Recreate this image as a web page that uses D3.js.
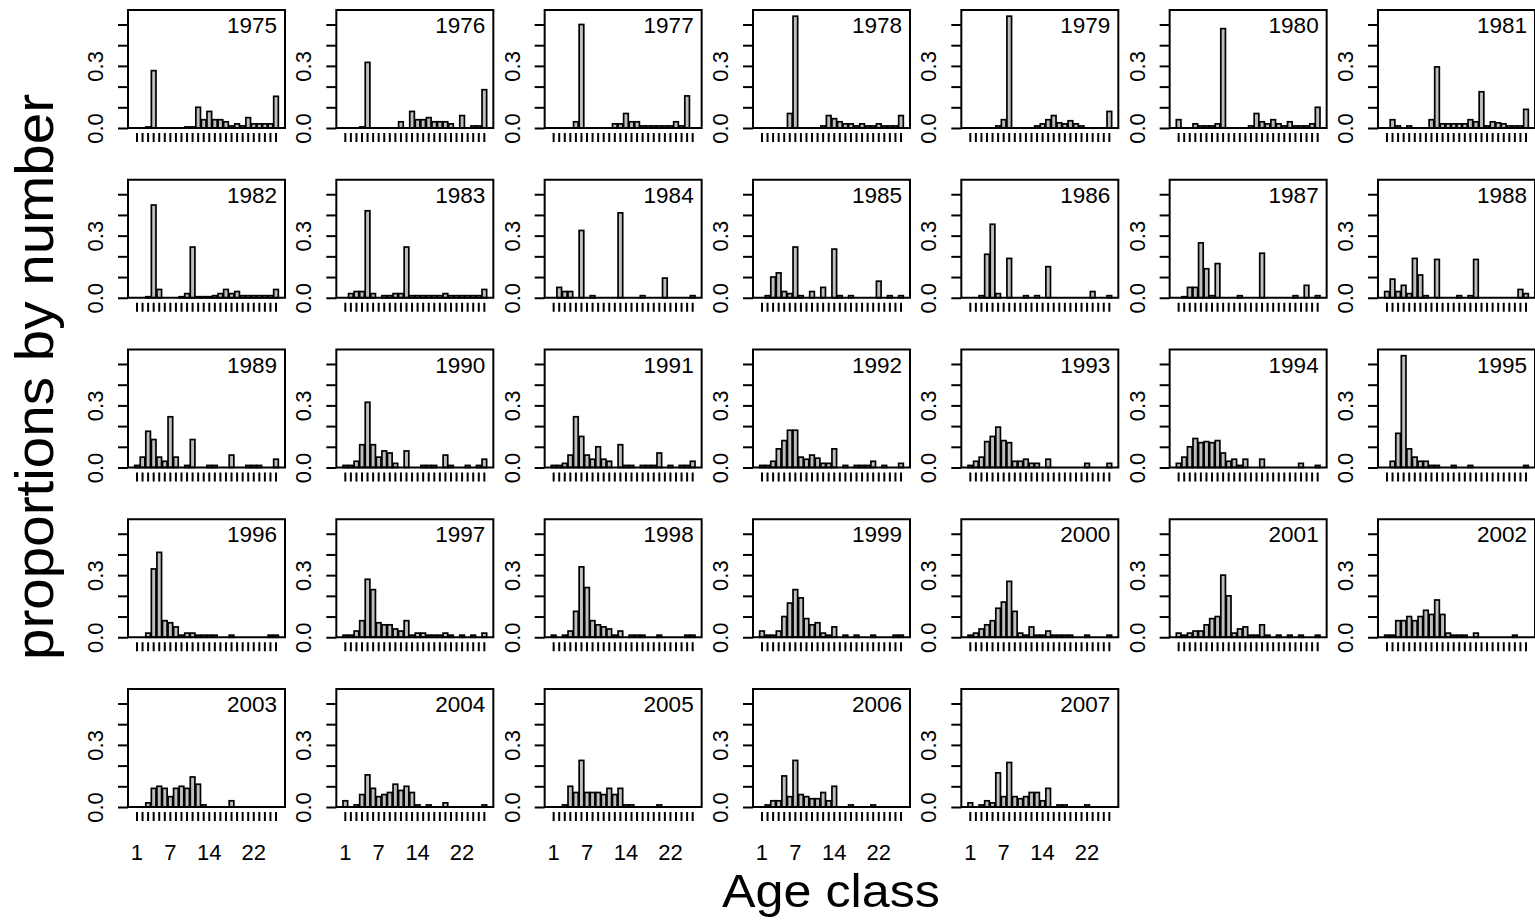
<!DOCTYPE html>
<html>
<head>
<meta charset="utf-8">
<script src="https://cdn.jsdelivr.net/npm/d3@7/dist/d3.min.js"></script>
<style>
    html, body { margin: 0; padding: 0; background: #fff; }
    svg { display: block; font-family: "Liberation Sans", Arial, Helvetica, sans-serif; }
</style>
</head>
<body>
<svg id="chart"></svg>
<script>
// age classes (x categories)
var ages = [1, 2, 3, 4, 5, 6, 7, 8, 9, 10, 11, 12, 13, 14, 15, 16, 17, 18, 19, 20, 21, 22, 23, 24, 25, 26];
// tick labels
var ageLabels = [1, 7, 14, 22];
var yTicks = [0, 0.1, 0.2, 0.3, 0.4, 0.5];
var yLabels = [0, 0.3];
// panel titles
var years = [1975, 1976, 1977, 1978, 1979, 1980, 1981, 1982, 1983, 1984, 1985, 1986, 1987, 1988,
    1989, 1990, 1991, 1992, 1993, 1994, 1995, 1996, 1997, 1998, 1999, 2000, 2001, 2002,
    2003, 2004, 2005, 2006, 2007];

// proportions by number, one array per year (age 1..26)
var p1975 = [0, 0, 0.005, 0.277, 0, 0, 0, 0, 0, 0.005, 0.005, 0.10, 0.04, 0.08, 0.04, 0.04, 0.03, 0.01, 0.02, 0.01, 0.05, 0.02, 0.02, 0.02, 0.02, 0.153];
var p1976 = [0, 0, 0, 0.005, 0.317, 0, 0, 0, 0, 0, 0.03, 0, 0.08, 0.04, 0.04, 0.05, 0.03, 0.03, 0.03, 0.02, 0, 0.06, 0, 0.01, 0.01, 0.185];
var p1977 = [0, 0, 0, 0, 0.03, 0.50, 0, 0, 0, 0, 0, 0.02, 0.02, 0.07, 0.03, 0.03, 0.01, 0.01, 0.01, 0.01, 0.01, 0.01, 0.03, 0.01, 0.155, 0];
var p1978 = [0, 0, 0, 0, 0, 0.07, 0.54, 0, 0, 0, 0, 0.01, 0.06, 0.045, 0.03, 0.02, 0.02, 0.01, 0.02, 0.01, 0.01, 0.02, 0.01, 0.01, 0.01, 0.06];
var p1979 = [0, 0, 0, 0, 0, 0.01, 0.04, 0.54, 0, 0, 0, 0, 0.01, 0.02, 0.04, 0.06, 0.025, 0.02, 0.035, 0.02, 0.01, 0, 0, 0, 0, 0.08];
var p1980 = [0.04, 0, 0, 0.02, 0.01, 0.01, 0.01, 0.02, 0.48, 0, 0, 0, 0, 0.01, 0.07, 0.03, 0.02, 0.04, 0.02, 0.01, 0.03, 0.01, 0.01, 0.01, 0.02, 0.10];
var p1981 = [0, 0.04, 0.01, 0, 0.01, 0, 0, 0, 0.04, 0.295, 0.02, 0.02, 0.02, 0.02, 0.02, 0.04, 0.03, 0.175, 0.01, 0.03, 0.025, 0.02, 0.01, 0.01, 0.01, 0.09];
var p1982 = [0, 0, 0.005, 0.448, 0.04, 0, 0, 0, 0.005, 0.02, 0.245, 0.005, 0.005, 0.005, 0.01, 0.02, 0.04, 0.02, 0.03, 0.01, 0.01, 0.01, 0.01, 0.01, 0.01, 0.04];
var p1983 = [0, 0.02, 0.03, 0.03, 0.42, 0.02, 0, 0.01, 0.01, 0.02, 0.02, 0.245, 0.01, 0.01, 0.01, 0.01, 0.01, 0.01, 0.02, 0.01, 0.01, 0.01, 0.01, 0.01, 0.01, 0.04];
var p1984 = [0, 0.05, 0.03, 0.03, 0, 0.325, 0, 0.01, 0, 0, 0, 0, 0.41, 0, 0, 0, 0.01, 0, 0, 0, 0.095, 0, 0, 0, 0, 0.01];
var p1985 = [0, 0.01, 0.10, 0.12, 0.03, 0.02, 0.245, 0.01, 0, 0.03, 0, 0.05, 0, 0.235, 0.01, 0, 0.01, 0, 0, 0, 0, 0.08, 0, 0.01, 0, 0.01];
var p1986 = [0, 0, 0.01, 0.21, 0.355, 0.02, 0, 0.19, 0, 0, 0.01, 0, 0.01, 0, 0.15, 0, 0, 0, 0, 0, 0, 0, 0.03, 0, 0, 0.01];
var p1987 = [0, 0.005, 0.05, 0.05, 0.265, 0.14, 0.01, 0.165, 0, 0, 0, 0.01, 0, 0, 0, 0.215, 0, 0, 0, 0, 0, 0.01, 0, 0.06, 0, 0.01];
var p1988 = [0.03, 0.09, 0.03, 0.06, 0.02, 0.19, 0.11, 0.01, 0, 0.185, 0, 0, 0, 0.01, 0, 0.01, 0.185, 0, 0, 0, 0, 0, 0, 0, 0.04, 0.02];
var p1989 = [0.01, 0.05, 0.175, 0.135, 0.05, 0.03, 0.245, 0.05, 0, 0.01, 0.135, 0, 0, 0.01, 0.01, 0, 0, 0.06, 0, 0, 0.01, 0.01, 0.01, 0, 0, 0.04];
var p1990 = [0.01, 0.01, 0.03, 0.11, 0.315, 0.11, 0.05, 0.08, 0.07, 0.02, 0, 0.08, 0, 0, 0.01, 0.01, 0.01, 0, 0.06, 0.01, 0, 0, 0.01, 0, 0.01, 0.04];
var p1991 = [0.01, 0.01, 0.02, 0.06, 0.245, 0.15, 0.06, 0.04, 0.10, 0.04, 0.03, 0, 0.11, 0.01, 0.01, 0, 0.01, 0.01, 0.01, 0.07, 0, 0.01, 0, 0.01, 0.01, 0.03];
var p1992 = [0.01, 0.01, 0.03, 0.09, 0.13, 0.18, 0.18, 0.05, 0.04, 0.06, 0.045, 0.02, 0.02, 0.09, 0, 0.01, 0, 0.01, 0.01, 0.01, 0.03, 0, 0.01, 0, 0, 0.02];
var p1993 = [0.01, 0.03, 0.05, 0.125, 0.15, 0.195, 0.13, 0.12, 0.03, 0.03, 0.04, 0.02, 0.02, 0, 0.04, 0, 0, 0, 0, 0, 0, 0.02, 0, 0, 0, 0.02];
var p1994 = [0.02, 0.05, 0.10, 0.14, 0.12, 0.125, 0.12, 0.13, 0.07, 0.03, 0.04, 0.01, 0.04, 0, 0, 0.04, 0, 0, 0, 0, 0, 0, 0.02, 0, 0, 0.01];
var p1995 = [0, 0.03, 0.165, 0.54, 0.09, 0.05, 0.03, 0.03, 0.01, 0.01, 0, 0, 0.01, 0, 0, 0.01, 0, 0, 0, 0, 0, 0, 0, 0, 0, 0.01];
var p1996 = [0, 0, 0.02, 0.33, 0.41, 0.08, 0.07, 0.05, 0.01, 0.02, 0.02, 0.01, 0.01, 0.01, 0.01, 0, 0, 0.01, 0, 0, 0, 0, 0, 0, 0.01, 0.01];
var p1997 = [0.01, 0.01, 0.03, 0.08, 0.28, 0.23, 0.07, 0.06, 0.06, 0.04, 0.03, 0.08, 0.01, 0.02, 0.02, 0.01, 0.01, 0.01, 0.02, 0.01, 0, 0.01, 0, 0.01, 0, 0.02];
var p1998 = [0.01, 0, 0.01, 0.03, 0.125, 0.34, 0.24, 0.08, 0.06, 0.05, 0.04, 0.01, 0.03, 0, 0.01, 0.01, 0.01, 0, 0, 0.01, 0, 0, 0, 0, 0.01, 0.01];
var p1999 = [0.03, 0.01, 0.01, 0.03, 0.10, 0.165, 0.23, 0.19, 0.09, 0.06, 0.07, 0.02, 0.01, 0.05, 0, 0.01, 0, 0.01, 0, 0, 0.01, 0, 0, 0, 0.01, 0.01];
var p2000 = [0.01, 0.02, 0.04, 0.06, 0.08, 0.14, 0.17, 0.27, 0.125, 0.02, 0.01, 0.05, 0.01, 0.01, 0.03, 0.01, 0.01, 0.01, 0.01, 0, 0, 0.01, 0, 0, 0, 0.01];
var p2001 = [0.02, 0.01, 0.02, 0.03, 0.03, 0.06, 0.09, 0.10, 0.30, 0.20, 0.02, 0.04, 0.05, 0.01, 0.01, 0.06, 0.01, 0, 0.01, 0, 0.01, 0, 0.01, 0, 0, 0.01];
var p2002 = [0.01, 0.01, 0.08, 0.08, 0.10, 0.08, 0.10, 0.13, 0.11, 0.18, 0.11, 0.02, 0.01, 0.01, 0.01, 0, 0.02, 0, 0, 0, 0, 0, 0, 0.01, 0, 0];
var p2003 = [0, 0, 0.02, 0.09, 0.10, 0.09, 0.05, 0.09, 0.10, 0.09, 0.145, 0.11, 0.01, 0, 0, 0, 0, 0.03, 0, 0, 0, 0, 0, 0, 0, 0];
var p2004 = [0.03, 0, 0.01, 0.06, 0.155, 0.09, 0.05, 0.06, 0.07, 0.11, 0.08, 0.10, 0.07, 0.01, 0, 0.01, 0, 0, 0.02, 0, 0, 0, 0, 0, 0, 0.01];
var p2005 = [0, 0, 0.01, 0.10, 0.07, 0.225, 0.07, 0.07, 0.07, 0.06, 0.09, 0.06, 0.09, 0.01, 0.01, 0, 0, 0, 0, 0.01, 0, 0, 0, 0, 0, 0];
var p2006 = [0, 0.01, 0.03, 0.03, 0.15, 0.05, 0.225, 0.06, 0.05, 0.04, 0.04, 0.07, 0.03, 0.10, 0, 0, 0.01, 0, 0, 0, 0.01, 0, 0, 0, 0, 0];
var p2007 = [0.02, 0, 0.01, 0.03, 0.02, 0.165, 0.05, 0.215, 0.05, 0.04, 0.05, 0.07, 0.07, 0.03, 0.09, 0, 0.01, 0.01, 0, 0, 0, 0.01, 0, 0, 0, 0];

var series = [p1975, p1976, p1977, p1978, p1979, p1980, p1981, p1982, p1983, p1984, p1985,
    p1986, p1987, p1988, p1989, p1990, p1991, p1992, p1993, p1994, p1995, p1996, p1997,
    p1998, p1999, p2000, p2001, p2002, p2003, p2004, p2005, p2006, p2007];

// layout (grid of 7 columns x 5 rows)
var config = {
    width: 1535,
    height: 921,
    ncol: 7,
    left: 128,      // first box left
    top: 10,        // first box top
    colStep: 208.33,
    rowStep: 169.75,
    boxW: 157,
    boxH: 118,
    barColor: "#bebebe",
    barLine: 1.7,
    tickLine: 2,
    fontSize: 22
};

var svg = d3.select("#chart")
    .attr("width", config.width)
    .attr("height", config.height)
    .attr("viewBox", "0 0 " + config.width + " " + config.height);

// shared scales, as in barplot: width 1, space 0.2
var x = d3.scaleBand()
    .domain(ages)
    .range([0, config.boxW])
    .paddingInner(0.2 / 1.2)
    .paddingOuter(1.2);

var y = d3.scaleLinear()
    .domain([0, 0.57])
    .range([config.boxH, 0]);

var lastRowStart = years.length - 5;

years.forEach(function(yr, k) {
    var col = k % config.ncol,
        row = Math.floor(k / config.ncol);
    var g = svg.append("g")
        .attr("transform", "translate(" + (config.left + col * config.colStep) + "," + (config.top + row * config.rowStep) + ")");

    // bars
    g.selectAll("rect.bar")
        .data(series[k])
        .enter()
        .append("rect")
        .attr("class", "bar")
        .attr("x", function(d, i) { return x(ages[i]); })
        .attr("y", function(d) { return y(d); })
        .attr("width", x.bandwidth())
        .attr("height", function(d) { return y(0) - y(d); })
        .style("fill", config.barColor)
        .style("stroke", "#000")
        .style("stroke-width", config.barLine);

    // y axis: ticks every 0.1, labels at 0.0 and 0.3 (rotated)
    var ya = g.append("g")
        .call(d3.axisLeft(y)
            .tickValues(yTicks)
            .tickSize(10)
            .tickSizeOuter(0)
            .tickFormat(function(d) { return yLabels.indexOf(d) >= 0 ? d.toFixed(1) : ""; }));
    ya.select(".domain").remove();
    ya.selectAll(".tick line").style("stroke-width", config.tickLine);
    ya.selectAll(".tick text")
        .attr("transform", "rotate(-90)")
        .attr("x", 0)
        .attr("y", -25)
        .attr("dy", 0)
        .style("text-anchor", "middle")
        .style("font-size", config.fontSize + "px")
        .style("font-family", "Liberation Sans, Arial, sans-serif");

    // x axis: one tick per bar, labels only on the bottom row
    var xa = g.append("g")
        .attr("transform", "translate(0," + (config.boxH + 5) + ")")
        .call(d3.axisBottom(x)
            .tickSize(9)
            .tickPadding(23.5)
            .tickFormat(function(d) { return (k >= lastRowStart && ageLabels.indexOf(d) >= 0) ? d : ""; }));
    xa.select(".domain").remove();
    xa.selectAll(".tick line").style("stroke-width", config.tickLine);
    xa.selectAll(".tick text")
        .style("font-size", config.fontSize + "px")
        .style("font-family", "Liberation Sans, Arial, sans-serif");

    // box
    g.append("rect")
        .attr("width", config.boxW)
        .attr("height", config.boxH)
        .style("fill", "none")
        .style("stroke", "#000")
        .style("stroke-width", 2);

    // year label
    g.append("text")
        .attr("x", config.boxW - 8)
        .attr("y", 23)
        .style("text-anchor", "end")
        .style("font-size", "22.5px")
        .text(yr);
});

// outer axis titles
svg.append("text")
    .attr("transform", "translate(53,377) rotate(-90)")
    .attr("textLength", 566)
    .attr("lengthAdjust", "spacingAndGlyphs")
    .style("text-anchor", "middle")
    .style("font-size", "53px")
    .text("proportions by number");

svg.append("text")
    .attr("x", 831)
    .attr("y", 907)
    .attr("textLength", 218)
    .attr("lengthAdjust", "spacingAndGlyphs")
    .style("text-anchor", "middle")
    .style("font-size", "46px")
    .text("Age class");
</script>
</body>
</html>
